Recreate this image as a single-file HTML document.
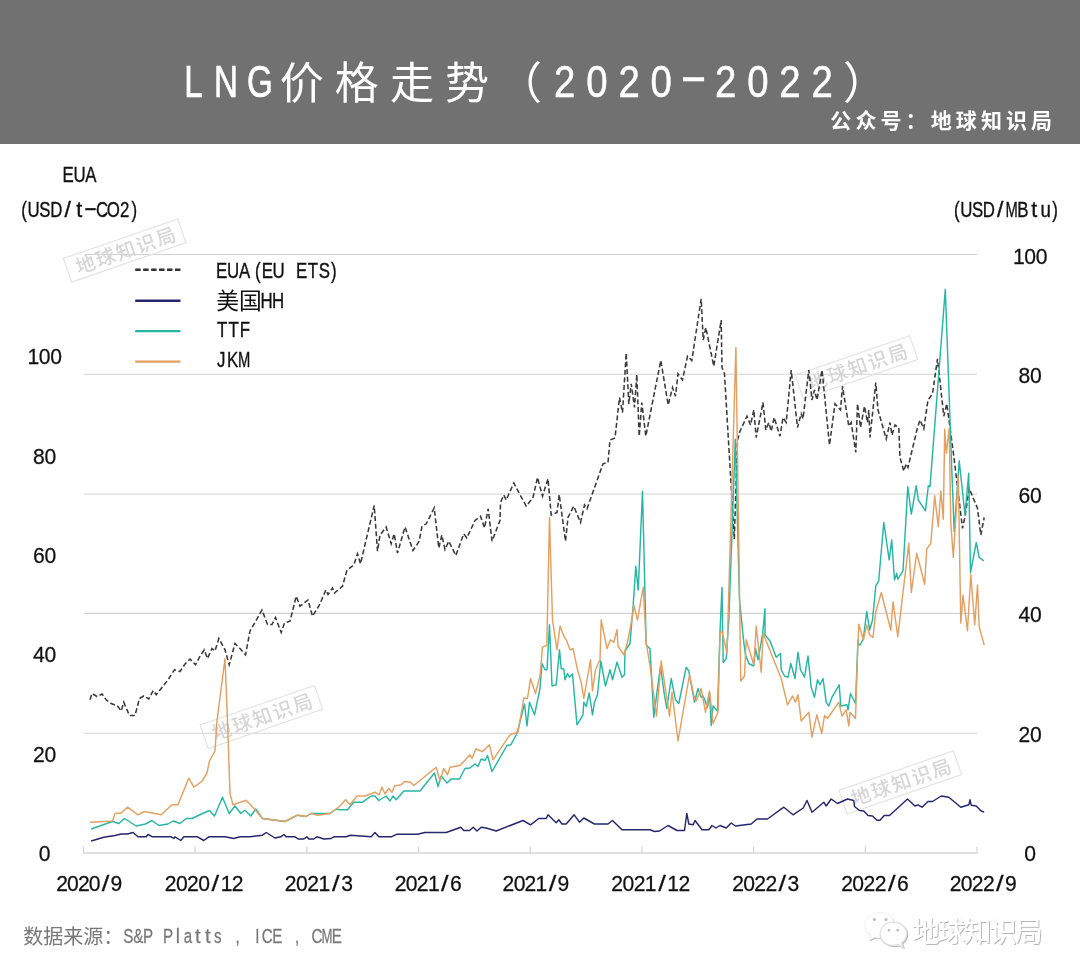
<!DOCTYPE html>
<html lang="zh-CN"><head><meta charset="utf-8"><title>LNG价格走势（2020-2022）</title>
<style>
html,body{margin:0;padding:0;background:#fff;}
body{width:1080px;height:979px;overflow:hidden;}
svg{display:block;will-change:transform;}
text{font-family:"Liberation Sans", "Noto Sans CJK SC", sans-serif;}
.m{text-anchor:middle;}
.wm{font-size:19.5px;fill:#d6d6d6;letter-spacing:1.8px;font-weight:500;}
</style></head><body>
<svg width="1080" height="979" viewBox="0 0 1080 979">
<rect x="0" y="0" width="1080" height="979" fill="#ffffff"/>
<rect x="0" y="0" width="1080" height="144" fill="#727172"/>
<text class="m" transform="translate(0 96.6) scale(0.760 1)" x="254.61 297.37 341.84" y="0" font-size="43.6px" fill="#fff" stroke="#fff" stroke-width="0.70" xml:space="preserve">LNG</text>
<text x="279.7" y="99" font-size="44px" fill="#fff" letter-spacing="11.1px">价格走势</text>
<text x="498" y="99" font-size="44px" fill="#fff">（</text>
<text class="m" transform="translate(0 96.6) scale(0.880 1)" x="641.70 678.28 714.86 751.44 788.02 824.60 861.18 897.76 934.34" y="0.0 0.0 0.0 0.0 -5.5 0.0 0.0 0.0 0.0" font-size="43.6px" fill="#fff" stroke="#fff" stroke-width="0.50" xml:space="preserve">2020<tspan textLength="31.25" lengthAdjust="spacingAndGlyphs">-</tspan>2022</text>
<text x="843" y="99" font-size="44px" fill="#fff">）</text>
<text x="830.3" y="128.3" font-size="21px" font-weight="bold" fill="#fff" letter-spacing="4.1px">公众号：地球知识局</text>
<line x1="84" y1="254.5" x2="977.2" y2="254.5" stroke="#d2d2d2" stroke-width="1.1"/>
<line x1="84" y1="374.3" x2="977.2" y2="374.3" stroke="#d2d2d2" stroke-width="1.1"/>
<line x1="84" y1="494.0" x2="977.2" y2="494.0" stroke="#d2d2d2" stroke-width="1.1"/>
<line x1="84" y1="613.4" x2="977.2" y2="613.4" stroke="#d2d2d2" stroke-width="1.1"/>
<line x1="84" y1="733.3" x2="977.2" y2="733.3" stroke="#d2d2d2" stroke-width="1.1"/>
<path d="M83.5 846.5V853H977V846.5" fill="none" stroke="#d6d6d6" stroke-width="1.3"/>
<line x1="195.1" y1="846.5" x2="195.1" y2="853" stroke="#d6d6d6" stroke-width="1.3"/>
<line x1="306.8" y1="846.5" x2="306.8" y2="853" stroke="#d6d6d6" stroke-width="1.3"/>
<line x1="418.5" y1="846.5" x2="418.5" y2="853" stroke="#d6d6d6" stroke-width="1.3"/>
<line x1="530.2" y1="846.5" x2="530.2" y2="853" stroke="#d6d6d6" stroke-width="1.3"/>
<line x1="641.9" y1="846.5" x2="641.9" y2="853" stroke="#d6d6d6" stroke-width="1.3"/>
<line x1="753.6" y1="846.5" x2="753.6" y2="853" stroke="#d6d6d6" stroke-width="1.3"/>
<line x1="865.3" y1="846.5" x2="865.3" y2="853" stroke="#d6d6d6" stroke-width="1.3"/>
<g transform="translate(124.7 250.6) rotate(-19)">
<rect x="-60.5" y="-12.5" width="121" height="25" fill="none" stroke="#e4e4e4" stroke-width="1.2"/>
<text class="wm" x="-51.5" y="7.3">地球知识局</text></g>
<g transform="translate(856.5 367.2) rotate(-19)">
<rect x="-60.5" y="-12.5" width="121" height="25" fill="none" stroke="#e4e4e4" stroke-width="1.2"/>
<text class="wm" x="-51.5" y="7.3">地球知识局</text></g>
<g transform="translate(261.4 717.1) rotate(-19)">
<rect x="-60.5" y="-12.5" width="121" height="25" fill="none" stroke="#e4e4e4" stroke-width="1.2"/>
<text class="wm" x="-51.5" y="7.3">地球知识局</text></g>
<g transform="translate(900.3 782.4) rotate(-19)">
<rect x="-60.5" y="-12.5" width="121" height="25" fill="none" stroke="#e4e4e4" stroke-width="1.2"/>
<text class="wm" x="-51.5" y="7.3">地球知识局</text></g>
<polyline points="90.0,699.8 92.0,693.5 97.0,696.5 102.0,694.0 106.2,699.8 111.2,703.5 117.5,706.0 121.2,711.0 123.8,702.2 125.8,707.2 129.5,715.5 135.0,715.5 139.5,698.5 143.8,696.0 148.8,699.0 153.2,690.5 156.2,694.8 161.2,688.5 167.5,680.5 174.5,669.8 180.0,671.5 185.0,664.0 190.0,659.0 195.5,664.8 199.5,657.2 204.2,649.8 207.5,658.5 212.0,648.5 215.0,651.0 218.8,638.5 225.0,649.8 229.2,664.8 235.0,643.5 240.0,648.5 245.5,654.8 250.0,631.2 262.0,610.0 267.5,624.5 272.0,624.5 275.5,617.5 281.2,632.5 284.5,623.0 290.0,621.2 296.2,596.2 300.0,606.2 308.0,600.0 312.5,616.2 319.5,605.0 325.8,590.0 328.0,594.5 332.5,588.0 334.5,593.0 342.5,586.2 347.0,570.0 353.8,565.0 357.5,553.8 360.5,563.8 374.2,505.5 377.5,551.2 380.0,535.0 386.2,527.0 391.2,543.8 394.2,533.8 397.5,553.0 405.0,527.0 413.0,550.5 419.2,541.2 422.0,526.2 426.2,523.8 434.2,508.0 438.8,548.0 441.8,535.0 445.0,549.5 448.8,541.2 455.8,555.5 463.8,533.8 466.8,538.0 475.0,520.5 480.5,516.2 484.5,528.0 488.2,508.8 492.0,541.2 500.0,520.5 500.5,502.5 503.8,495.0 506.2,500.0 513.8,483.0 526.2,506.2 533.0,497.5 537.5,477.5 542.5,496.2 548.0,478.8 551.2,515.0 557.0,512.5 559.2,494.5 565.5,541.2 568.0,517.5 573.8,506.2 580.5,522.5 584.5,505.0 587.0,508.8 603.0,463.8 608.0,462.5 610.0,440.0 615.0,438.0 619.5,397.5 622.5,412.5 626.2,353.0 628.8,403.8 631.2,383.8 634.5,407.5 636.8,374.5 639.2,436.2 641.8,402.5 645.8,436.2 660.8,360.5 668.2,405.0 672.5,387.5 675.5,396.2 678.0,373.8 682.5,380.0 687.5,356.2 691.8,360.5 701.2,298.8 703.2,340.0 705.8,327.5 713.8,366.2 721.2,320.0 722.0,367.5 724.5,373.8 734.3,539.0 737.5,440.0 740.0,431.2 747.0,416.2 750.5,425.0 753.8,410.0 756.2,437.5 763.0,402.5 765.8,430.0 768.8,422.5 771.2,431.2 774.2,417.5 780.0,436.2 783.0,417.5 786.2,422.5 791.2,370.0 797.5,427.5 801.2,413.8 803.0,418.8 808.8,370.0 812.0,400.0 814.5,390.0 817.0,400.0 822.0,370.0 829.5,445.0 835.0,403.8 840.5,410.0 842.5,386.2 848.8,426.2 851.2,422.5 855.8,452.5 857.5,403.8 860.5,427.5 864.5,406.2 867.5,422.5 868.8,410.0 870.0,437.5 875.8,382.5 878.0,410.0 886.2,438.8 890.0,422.5 892.0,435.0 895.0,425.0 898.8,427.5 900.0,457.5 903.8,471.2 906.2,463.8 908.0,467.5 917.5,427.5 920.0,420.0 923.8,428.8 928.0,400.0 932.5,393.8 937.5,358.8 943.8,416.2 946.8,403.8 953.8,456.2 962.5,528.3 965.0,516.7 969.2,488.3 973.3,498.3 977.5,508.3 980.8,535.0 984.2,517.5" fill="none" stroke="#3a3a3a" stroke-width="1.55" stroke-dasharray="5 2.6" stroke-linejoin="miter"/>
<polyline points="91.2,841.0 103.8,837.2 115.0,835.5 121.2,834.0 127.5,834.0 133.0,832.5 138.0,836.8 146.2,836.8 148.0,834.5 152.5,836.8 171.2,836.8 173.8,838.5 175.0,836.8 180.8,840.5 183.8,836.8 197.5,836.8 203.8,840.5 208.8,836.8 225.0,836.8 233.8,838.5 240.0,836.8 250.0,836.8 262.5,835.2 266.2,832.5 275.0,838.0 280.8,836.8 283.8,834.5 286.2,836.8 295.0,836.8 298.2,839.0 303.8,839.0 306.8,836.8 308.8,839.0 313.8,839.0 316.8,836.8 323.8,839.0 331.2,838.5 333.8,836.8 340.0,836.8 346.2,836.8 350.5,835.2 371.2,836.8 375.0,832.5 378.8,836.8 391.2,836.8 397.0,834.2 417.5,834.2 425.0,832.5 446.2,832.5 460.8,827.2 463.8,830.5 469.5,830.5 473.2,827.2 477.0,831.0 481.2,827.2 486.2,828.0 496.2,831.0 523.0,820.5 530.5,824.8 538.8,818.5 546.2,818.5 548.0,814.8 556.2,822.8 558.8,819.8 562.0,824.0 566.2,824.0 574.2,814.8 579.5,822.2 583.8,818.0 590.0,821.5 594.5,824.0 608.0,824.0 612.5,820.5 622.0,829.8 650.0,829.8 654.5,831.5 659.5,831.0 668.0,825.5 677.0,830.5 684.5,830.5 686.8,813.5 688.8,824.0 693.2,824.8 695.0,820.5 702.0,829.8 708.8,829.8 712.0,825.5 715.8,828.0 720.0,825.5 726.2,828.0 731.2,823.0 735.5,826.0 751.2,824.0 757.0,819.0 767.5,819.0 783.8,807.2 793.0,814.8 803.2,808.0 807.0,800.5 812.0,812.2 823.8,802.2 826.2,806.0 831.2,799.0 837.5,803.5 847.5,799.0 853.8,800.5 854.5,806.5 859.5,810.5 863.8,811.0 868.0,815.5 872.5,816.0 877.0,820.2 880.0,820.2 884.2,815.5 889.5,815.5 907.5,799.0 915.0,806.0 918.0,804.8 922.0,807.2 928.0,801.5 932.5,801.5 941.2,796.0 948.8,797.2 960.8,807.2 968.8,804.8 970.0,799.8 971.2,805.2 976.2,806.0 981.2,811.0 984.2,812.2" fill="none" stroke="#25276a" stroke-width="1.45" stroke-linejoin="round"/>
<polyline points="91.2,829.0 112.5,821.5 118.8,823.5 124.5,818.5 136.2,826.0 145.5,824.0 152.0,820.5 158.8,825.5 168.0,824.0 173.0,821.0 180.0,823.5 186.2,818.5 192.0,818.5 202.5,813.5 209.5,810.5 214.5,816.0 222.5,797.2 229.2,813.5 235.0,806.0 240.8,813.5 245.0,810.2 250.8,816.0 255.8,809.0 262.5,818.5 285.0,821.5 297.5,815.2 306.2,816.5 311.2,813.5 320.0,813.5 330.0,813.5 336.2,809.0 340.0,809.8 347.5,809.8 353.8,802.2 362.5,802.2 371.2,796.0 375.0,796.0 378.8,800.5 386.2,796.0 390.0,801.0 393.0,796.0 396.2,799.8 403.8,791.0 420.0,791.0 434.5,773.0 438.0,786.5 441.2,776.0 447.0,783.0 451.2,779.0 459.5,779.0 465.0,768.5 470.0,768.0 475.0,764.0 478.0,766.5 481.2,759.0 485.0,760.5 487.5,755.5 492.0,771.5 507.0,745.5 510.8,744.8 517.0,733.5 524.5,704.0 527.0,726.0 529.5,702.2 534.5,714.8 540.0,688.5 542.0,663.5 545.0,669.8 547.0,669.8 549.5,624.8 552.0,686.0 556.2,684.8 559.5,649.8 561.2,668.5 563.8,669.0 565.0,679.8 567.5,673.5 569.5,677.2 572.5,674.0 577.0,724.8 583.0,714.8 583.8,702.2 586.2,706.5 589.2,693.0 592.5,714.8 594.5,702.2 597.5,694.8 600.8,661.0 605.5,686.0 610.0,669.8 612.5,679.8 617.0,662.2 622.0,677.2 624.5,674.8 625.0,651.0 630.0,643.5 633.2,605.0 635.8,566.2 638.2,590.0 642.5,491.2 646.2,645.0 650.0,648.8 651.2,669.8 653.8,717.2 657.0,692.2 660.5,666.0 664.2,693.5 666.8,708.5 671.2,678.5 675.5,699.8 678.8,703.5 686.2,667.2 688.8,671.0 694.5,702.2 698.0,688.5 701.2,697.2 703.2,696.0 707.5,707.2 709.5,692.2 711.2,725.5 713.0,706.0 717.5,711.0 720.0,632.2 722.0,587.5 723.2,662.5 726.2,658.8 728.8,620.0 732.0,532.5 735.3,439.2 739.5,600.0 743.8,642.5 745.5,654.8 748.8,663.5 753.8,666.0 755.5,648.5 758.0,659.8 762.5,634.8 765.0,608.8 765.0,634.8 770.0,641.0 776.2,657.2 780.5,653.5 781.2,669.8 784.5,676.0 788.0,677.2 790.8,663.5 795.0,678.5 798.0,652.2 800.5,669.8 804.5,677.2 808.0,656.0 811.2,687.2 814.5,697.2 817.5,679.8 820.0,684.8 823.0,678.5 826.2,702.2 828.8,706.0 832.0,697.2 839.2,684.8 840.8,706.0 847.0,704.8 848.0,709.8 850.5,693.5 855.5,703.5 858.0,639.8 858.0,643.3 860.0,645.0 863.3,639.2 866.7,611.7 869.7,630.0 872.5,620.0 875.8,585.8 878.7,580.8 883.8,522.5 889.2,560.0 891.7,540.0 894.5,580.0 896.7,573.3 897.8,579.2 903.0,570.8 907.8,486.7 911.3,514.2 916.2,485.8 918.3,500.0 925.5,510.8 928.3,485.8 930.0,486.7 945.3,289.2 951.7,466.7 954.2,531.7 959.2,460.8 965.0,515.0 968.7,473.3 970.5,572.5 976.3,542.5 979.2,557.5 983.7,560.8" fill="none" stroke="#29b5a4" stroke-width="1.45" stroke-linejoin="round"/>
<polyline points="90.0,822.2 112.5,821.0 115.0,813.5 121.2,813.0 127.5,807.2 138.0,814.8 144.5,811.5 161.2,814.8 172.0,804.8 178.0,804.8 188.8,778.0 193.8,787.2 201.8,781.5 206.8,773.5 209.5,761.0 215.0,751.0 217.0,721.0 225.0,658.5 227.5,721.0 230.0,793.5 233.0,804.8 246.2,800.2 255.0,809.8 262.5,818.5 285.0,821.5 297.5,815.2 306.2,816.5 311.2,813.5 317.5,815.2 330.0,813.5 340.0,806.0 345.5,799.8 350.0,804.8 357.0,796.0 365.0,796.0 375.0,792.2 379.2,794.8 382.0,787.2 385.0,794.0 388.8,788.5 392.0,792.2 394.5,786.0 401.2,784.8 404.5,781.5 410.5,782.2 413.8,785.5 436.2,767.2 440.0,781.0 443.8,768.5 447.5,774.8 450.0,767.2 460.0,765.5 470.0,754.8 472.0,758.5 475.8,749.0 482.5,751.5 489.5,744.8 493.0,759.8 510.0,734.8 513.8,733.5 518.0,732.2 523.8,698.0 527.5,698.5 530.5,678.5 535.5,693.5 540.0,676.0 542.5,647.2 546.8,645.5 549.5,517.5 552.5,620.0 557.0,649.8 560.0,626.0 563.8,636.0 566.2,639.8 570.0,649.8 573.0,648.5 577.5,669.8 581.2,682.2 583.8,698.5 590.5,659.8 592.5,691.0 595.5,669.8 600.0,659.8 601.2,619.8 607.0,648.5 610.5,639.8 613.8,642.2 617.0,629.8 618.0,646.0 623.8,654.8 627.5,642.2 632.5,616.0 633.8,605.0 637.5,620.0 643.2,587.0 646.2,642.5 650.0,666.0 654.5,701.0 656.5,716.0 661.2,661.0 669.5,716.0 672.0,692.2 678.0,741.0 689.5,674.8 694.5,698.5 696.2,701.0 701.2,688.5 705.5,712.2 709.5,691.0 713.0,723.5 718.0,712.2 720.0,633.5 722.0,631.0 727.0,653.5 735.9,347.4 740.8,681.0 744.5,676.0 746.2,639.8 753.8,664.8 756.2,626.0 761.2,672.2 763.2,633.5 781.2,678.5 787.5,704.8 792.5,696.0 795.5,702.2 798.0,694.8 801.2,721.0 808.8,712.2 812.0,737.2 816.8,714.8 821.8,733.5 824.5,715.5 827.5,718.5 838.8,702.2 842.0,716.0 846.2,709.8 848.8,726.0 850.0,712.2 855.5,718.5 858.0,639.8 858.0,643.3 858.8,624.2 863.3,640.0 866.7,625.0 869.7,635.0 873.0,637.5 875.8,611.7 881.3,592.5 890.8,630.0 893.0,601.7 897.8,636.7 908.8,543.3 911.3,592.5 916.7,553.3 924.7,584.2 926.7,549.2 930.8,543.3 934.7,495.8 938.3,526.7 940.8,490.8 943.3,519.2 944.7,429.2 946.3,453.3 949.2,428.3 950.8,522.5 953.3,557.5 958.3,475.8 960.8,623.3 963.0,595.0 967.5,630.8 970.8,574.2 974.7,625.0 977.5,585.0 979.2,626.7 984.2,645.0" fill="none" stroke="#e2a063" stroke-width="1.45" stroke-linejoin="round"/>
<line x1="135.2" y1="269.7" x2="180.5" y2="269.7" stroke="#333" stroke-width="2.6" stroke-dasharray="5.5 2.45"/>
<line x1="135.2" y1="300.7" x2="180.5" y2="300.7" stroke="#25276a" stroke-width="2.4"/>
<line x1="135.2" y1="331.1" x2="180.5" y2="331.1" stroke="#29b5a4" stroke-width="2.4"/>
<line x1="135.2" y1="361.6" x2="180.5" y2="361.6" stroke="#e2a063" stroke-width="2.4"/>
<text class="m" transform="translate(0 278.3) scale(0.780 1)" x="284.23 298.85 313.46 330.57 342.69 357.31 371.92 386.54 401.15 415.77 427.89" y="0" font-size="21.6px" fill="#111" stroke="#111" stroke-width="0.35" xml:space="preserve">EUA(EU ETS)</text>
<text x="216.3" y="309" font-size="22.8px" fill="#111">美国</text>
<text class="m" transform="translate(0 308.1) scale(0.780 1)" x="341.92 356.67" y="0" font-size="21.6px" fill="#111" stroke="#111" stroke-width="0.35" xml:space="preserve">HH</text>
<text class="m" transform="translate(0 337.3) scale(0.780 1)" x="284.87 299.49 314.10" y="0" font-size="21.6px" fill="#111" stroke="#111" stroke-width="0.35" xml:space="preserve">TTF</text>
<text class="m" transform="translate(0 366.8) scale(0.780 1)" x="283.72 298.33 312.95" y="0" font-size="21.6px" fill="#111" stroke="#111" stroke-width="0.35" xml:space="preserve">JK<tspan textLength="15.77" lengthAdjust="spacingAndGlyphs">M</tspan></text>
<text class="m" transform="translate(0 181.8) scale(0.780 1)" x="87.44 101.92 116.41" y="0" font-size="21.6px" fill="#111" stroke="#111" stroke-width="0.35" xml:space="preserve">EUA</text>
<text class="m" transform="translate(0 217.2) scale(0.780 1)" x="30.83 42.96 57.59 72.22 86.85 101.47 116.10 130.73 145.36 159.99 172.12" y="0.0 0.0 0.0 0.0 0.0 0.0 -2.6 0.0 0.0 0.0 0.0" font-size="21.6px" fill="#111" stroke="#111" stroke-width="0.35" xml:space="preserve">(USD<tspan textLength="8.21" lengthAdjust="spacingAndGlyphs">/</tspan><tspan textLength="7.69" lengthAdjust="spacingAndGlyphs">t</tspan><tspan textLength="16.67" lengthAdjust="spacingAndGlyphs">-</tspan>CO2)</text>
<text class="m" transform="translate(0 216.7) scale(0.780 1)" x="1226.72 1238.77 1253.31 1267.85 1282.38 1296.92 1311.46 1326.00 1340.54 1352.58" y="0" font-size="21.6px" fill="#111" stroke="#111" stroke-width="0.35" xml:space="preserve">(USD<tspan textLength="8.21" lengthAdjust="spacingAndGlyphs">/</tspan><tspan textLength="15.77" lengthAdjust="spacingAndGlyphs">M</tspan>B<tspan textLength="7.69" lengthAdjust="spacingAndGlyphs">t</tspan><tspan textLength="13.33" lengthAdjust="spacingAndGlyphs">u</tspan>)</text>
<text class="m" transform="translate(0 364.0) scale(0.960 1)" x="34.69 46.56 58.44" y="0" font-size="22.0px" fill="#111" stroke="#111" stroke-width="0.25" xml:space="preserve">100</text>
<text class="m" transform="translate(0 463.6) scale(0.960 1)" x="40.62 52.50" y="0" font-size="22.0px" fill="#111" stroke="#111" stroke-width="0.25" xml:space="preserve">80</text>
<text class="m" transform="translate(0 563.0) scale(0.960 1)" x="40.62 52.50" y="0" font-size="22.0px" fill="#111" stroke="#111" stroke-width="0.25" xml:space="preserve">60</text>
<text class="m" transform="translate(0 662.4) scale(0.960 1)" x="40.62 52.50" y="0" font-size="22.0px" fill="#111" stroke="#111" stroke-width="0.25" xml:space="preserve">40</text>
<text class="m" transform="translate(0 761.8) scale(0.960 1)" x="40.62 52.50" y="0" font-size="22.0px" fill="#111" stroke="#111" stroke-width="0.25" xml:space="preserve">20</text>
<text class="m" transform="translate(0 861.2) scale(0.960 1)" x="46.56" y="0" font-size="22.0px" fill="#111" stroke="#111" stroke-width="0.25" xml:space="preserve">0</text>
<text class="m" transform="translate(0 263.6) scale(0.960 1)" x="1061.25 1073.12 1085.00" y="0" font-size="22.0px" fill="#111" stroke="#111" stroke-width="0.25" xml:space="preserve">100</text>
<text class="m" transform="translate(0 383.1) scale(0.960 1)" x="1067.19 1079.06" y="0" font-size="22.0px" fill="#111" stroke="#111" stroke-width="0.25" xml:space="preserve">80</text>
<text class="m" transform="translate(0 502.6) scale(0.960 1)" x="1067.19 1079.06" y="0" font-size="22.0px" fill="#111" stroke="#111" stroke-width="0.25" xml:space="preserve">60</text>
<text class="m" transform="translate(0 622.1) scale(0.960 1)" x="1067.19 1079.06" y="0" font-size="22.0px" fill="#111" stroke="#111" stroke-width="0.25" xml:space="preserve">40</text>
<text class="m" transform="translate(0 741.6) scale(0.960 1)" x="1067.19 1079.06" y="0" font-size="22.0px" fill="#111" stroke="#111" stroke-width="0.25" xml:space="preserve">20</text>
<text class="m" transform="translate(0 861.2) scale(0.960 1)" x="1073.12" y="0" font-size="22.0px" fill="#111" stroke="#111" stroke-width="0.25" xml:space="preserve">0</text>
<text class="m" transform="translate(0 891.0) scale(0.960 1)" x="64.70 75.99 87.27 98.56 109.84 121.13" y="0" font-size="22.0px" fill="#111" stroke="#111" stroke-width="0.25" xml:space="preserve">2020<tspan textLength="7.92" lengthAdjust="spacingAndGlyphs">/</tspan>9</text>
<text class="m" transform="translate(0 891.0) scale(0.960 1)" x="177.70 189.35 201.00 212.66 224.31 235.96 247.61" y="0" font-size="22.0px" fill="#111" stroke="#111" stroke-width="0.25" xml:space="preserve">2020<tspan textLength="7.92" lengthAdjust="spacingAndGlyphs">/</tspan>12</text>
<text class="m" transform="translate(0 891.0) scale(0.960 1)" x="302.75 314.51 326.26 338.01 349.77 361.52" y="0" font-size="22.0px" fill="#111" stroke="#111" stroke-width="0.25" xml:space="preserve">2021<tspan textLength="7.92" lengthAdjust="spacingAndGlyphs">/</tspan>3</text>
<text class="m" transform="translate(0 891.0) scale(0.960 1)" x="417.23 428.78 440.32 451.87 463.41 474.96" y="0" font-size="22.0px" fill="#111" stroke="#111" stroke-width="0.25" xml:space="preserve">2021<tspan textLength="7.92" lengthAdjust="spacingAndGlyphs">/</tspan>6</text>
<text class="m" transform="translate(0 891.0) scale(0.960 1)" x="529.69 541.15 552.60 564.06 575.52 586.98" y="0" font-size="22.0px" fill="#111" stroke="#111" stroke-width="0.25" xml:space="preserve">2021<tspan textLength="7.92" lengthAdjust="spacingAndGlyphs">/</tspan>9</text>
<text class="m" transform="translate(0 891.0) scale(0.960 1)" x="642.82 654.50 666.18 677.86 689.55 701.23 712.91" y="0" font-size="22.0px" fill="#111" stroke="#111" stroke-width="0.25" xml:space="preserve">2021<tspan textLength="7.92" lengthAdjust="spacingAndGlyphs">/</tspan>12</text>
<text class="m" transform="translate(0 891.0) scale(0.960 1)" x="768.79 780.34 791.88 803.43 814.97 826.52" y="0" font-size="22.0px" fill="#111" stroke="#111" stroke-width="0.25" xml:space="preserve">2022<tspan textLength="7.92" lengthAdjust="spacingAndGlyphs">/</tspan>3</text>
<text class="m" transform="translate(0 891.0) scale(0.960 1)" x="882.38 894.01 905.64 917.27 928.91 940.54" y="0" font-size="22.0px" fill="#111" stroke="#111" stroke-width="0.25" xml:space="preserve">2022<tspan textLength="7.92" lengthAdjust="spacingAndGlyphs">/</tspan>6</text>
<text class="m" transform="translate(0 891.0) scale(0.960 1)" x="995.36 1006.90 1018.45 1029.99 1041.54 1053.08" y="0" font-size="22.0px" fill="#111" stroke="#111" stroke-width="0.25" xml:space="preserve">2022<tspan textLength="7.92" lengthAdjust="spacingAndGlyphs">/</tspan>9</text>
<text x="23.3" y="944.2" font-size="20px" fill="#787878">数据来源：</text>
<text class="m" transform="translate(0 943.0) scale(0.780 1)" x="164.49 177.22 189.95 202.68 215.41 228.14 240.87 253.60 266.33 279.06 291.79 304.53 317.26 329.99 342.72 355.45 368.18 380.91 393.64 406.37 419.10 431.83" y="0" font-size="19.4px" fill="#787878" stroke="#787878" stroke-width="0.25" xml:space="preserve">S&amp;P P<tspan textLength="5.38" lengthAdjust="spacingAndGlyphs">l</tspan>a<tspan textLength="7.18" lengthAdjust="spacingAndGlyphs">t</tspan><tspan textLength="7.18" lengthAdjust="spacingAndGlyphs">t</tspan>s , ICE , C<tspan textLength="14.10" lengthAdjust="spacingAndGlyphs">M</tspan>E</text>
<defs><filter id="ds" x="-10%" y="-20%" width="120%" height="150%"><feDropShadow dx="0.9" dy="0.9" stdDeviation="0.7" flood-color="#7d7d7d" flood-opacity="0.62"/></filter></defs>
<g filter="url(#ds)" fill="#ffffff" stroke="#ececec" stroke-width="0.6">
<path d="M879.7 912.6c8.3 0 15 5.7 15 12.7s-6.700 12.700-15 12.700c-1.700 0-3.300-.2-4.800-.7l-5.600 2.700 1.600-5.100c-3.800-2.300-6.200-5.700-6.200-9.600 0-7 6.700-12.700 15-12.700z"/>
<path d="M893.3 921.6c7.300 0 13.200 5.400 13.200 12s-5.900 12-13.200 12c-1.400 0-2.800-.2-4.100-.6" stroke="none"/>
<path d="M893.3 922c7.300 0 13.200 5.200 13.200 11.700 0 3.600-1.900 6.900-4.900 9l1.300 4.400-4.900-2.400c-1.500.5-3.100.7-4.700.7-7.300 0-13.200-5.200-13.200-11.700s5.900-11.700 13.200-11.700z" stroke="#e2e2e2" stroke-width="1.3"/>
<text x="912" y="941.6" font-size="28px" letter-spacing="-2.3px" stroke="none">地球知识局</text>
</g>
<g fill="#b9b9b9"><circle cx="874.3" cy="919.6" r="1.5"/><circle cx="886" cy="919.6" r="1.5"/><circle cx="889" cy="930.2" r="1.3"/><circle cx="897.7" cy="930.2" r="1.3"/></g>
</svg></body></html>
